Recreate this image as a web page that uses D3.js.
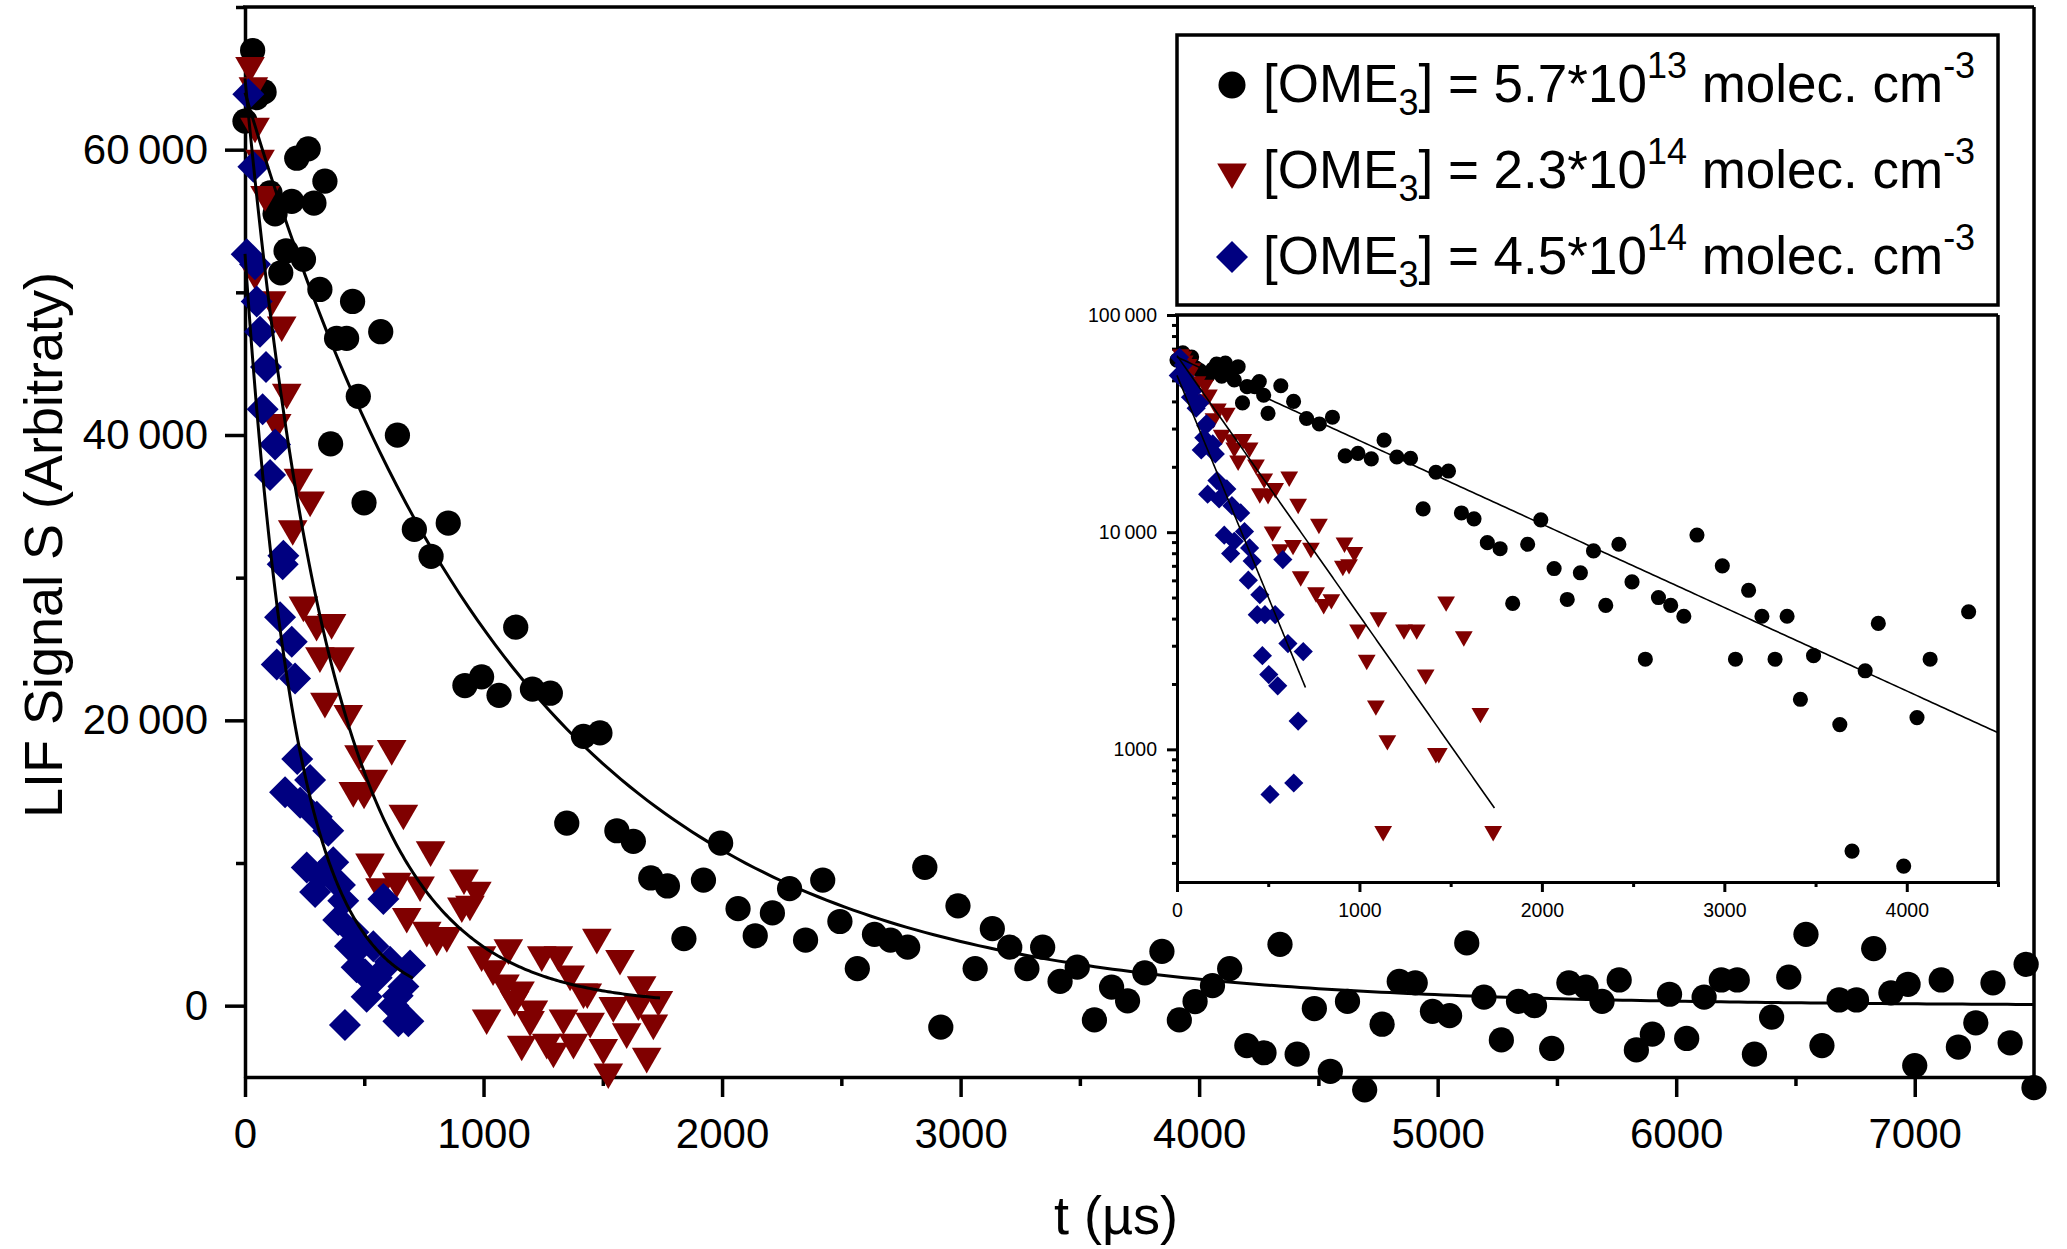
<!DOCTYPE html>
<html>
<head>
<meta charset="utf-8">
<script src="https://cdn.jsdelivr.net/npm/d3@7"></script>
<style>
  body { margin: 0; background: #fff; }
  text { font-family: "Liberation Sans", Arial, sans-serif; fill: #000; }
</style>
</head>
<body>
<div id="chart"></div>
<script>
// time (µs) and LIF signal
var blackT = [0,32,49,80,105,126,150,172,196,217,245,265,289,314,335,359,384,426,451,475,499,569,639,710,780,852,922,992,1065,1135,1205,1280,1349,1419,1488,1559,1628,1701,1771,1840,1922,1994,2067,2139,2211,2283,2350,2422,2494,2567,2639,2706,2778,2850,2917,2989,3061,3133,3206,3278,3344,3417,3489,3561,3633,3700,3772,3844,3917,3983,4056,4128,4200,4272,4339,4411,4483,4550,4622,4694,4767,4839,4906,4978,5050,5122,5194,5267,5339,5406,5478,5550,5622,5689,5761,5833,5900,5972,6044,6117,6189,6256,6328,6400,6472,6544,6611,6683,6756,6828,6900,6972,7000,7111,7183,7256,7328,7400,7467,7500];
var blackS = [62000,66950,63650,64050,56970,55500,51370,52900,56380,59400,52320,60060,56260,50200,57790,39380,46770,46770,49360,42710,35250,47240,39990,33380,31500,33830,22440,23050,21750,26530,22190,21900,12800,18880,19120,12260,11520,8950,8390,4700,8800,11400,6800,4900,6500,8200,4600,8800,5900,2600,5000,4600,4100,9700,-1500,7000,2600,5400,4100,2600,4100,1700,2700,-1000,1300,340,2300,3800,-1000,290,1400,2600,-2800,-3300,4300,-3400,-200,-4600,300,-5900,-1300,1700,1600,-400,-700,4400,600,-2400,300,0,-3000,1600,1300,300,1800,-3100,-2000,800,-2300,600,1800,1800,-3400,-800,2000,5000,-2800,400,400,4000,900,1500,-4200,1800,-2900,-1200,1600,-2600,2900,-5750];

var redT = [21,35,42,63,84,42,112,154,133,175,224,273,200,245,300,363,314,398,335,433,478,615,538,454,499,664,524,778,566,636,734,678,762,804,846,918,972,909,943,992,1104,1040,1090,1153,1130,1244,1314,1363,1209,1013,1160,1195,1265,1293,1335,1377,1419,1435,1447,1475,1502,1523,1544,1572,1600,1649,1663,1712,1684,1733];
var redS = [65890,64480,61640,59400,56850,51370,49480,47710,40870,42990,37040,35440,33430,28080,26730,26850,24520,24520,21330,20480,17660,18020,15940,15080,14960,13490,10060,10920,8340,8720,8460,6250,5280,4660,4910,8950,8090,6990,7110,3560,4050,2580,1590,1100,420,3560,3560,2210,-245,-860,-2700,-980,-2570,-3190,-860,-2570,960,960,-1100,4790,-2940,-4650,0,3310,-1840,130,1470,-1220,-3550,420];

var blueT = [14,35,7,42,49,63,88,74,126,105,161,158,147,196,133,210,219,273,168,231,301,349,259,370,294,398,314,412,580,391,454,482,440,538,468,503,692,552,608,510,664,622,640,419,643,685];
var blueS = [63890,58810,52670,51960,49360,47240,44770,41810,39330,37200,31540,30940,27220,25500,23910,22930,17290,15810,14960,14220,13240,12260,9690,10060,7970,8460,9080,7360,7480,6010,5150,4170,4170,4170,2700,2210,2820,1960,3070,620,1350,0,700,-1350,-1100,-1100];

// single exponential fits S = A*exp(-k t), drawn up to tEnd
var fitA = [64000, 65000, 52700];
var fitK = [0.000885, 0.002757, 0.0047];
var fitEnd = [7500, 1740, 704];

var seriesColor = ["#000000", "#800000", "#000080"];
var legendConc = ["5.7*10", "2.3*10", "4.5*10"];
var legendExp = ["13", "14", "14"];

var xTicks = [0,1000,2000,3000,4000,5000,6000,7000];
var xMinor = [500,1500,2500,3500,4500,5500,6500,7500];
var yTicks = [0,20000,40000,60000];
var yMinor = [10000,30000,50000,70000];
var insetXTicks = [0,1000,2000,3000,4000];
var insetXMinor = [500,1500,2500,3500,4500];
var insetYTicks = [1000,10000,100000];

var width = 2067, height = 1249;

var svg = d3.select("#chart").append("svg")
  .attr("width", width)
  .attr("height", height);

var x = d3.scaleLinear().domain([0, 7500]).range([245, 2034]);
var y = d3.scaleLinear().domain([-5000, 70000]).range([1077, 7]);

var fmt = function(d) {
  // thin space as thousands separator above 9999, like the original
  return d >= 10000 ? d3.format(",")(d).replace(/,/g, "\u2009") : String(d);
};

function zip(ts, ss) {
  return ts.map(function(t, i) { return {t: t, s: ss[i]}; });
}
var series = [zip(blackT, blackS), zip(redT, redS), zip(blueT, blueS)];

function symbolPath(i, scale) {
  if (i == 0) return d3.symbol().type(d3.symbolCircle).size(500 * scale)();
  if (i == 1) return d3.symbol().type(d3.symbolTriangle).size(380 * scale)();
  return d3.symbol().type(d3.symbolSquare).size(512 * scale)();
}
function symbolRot(i) { return i == 1 ? " rotate(180)" : (i == 2 ? " rotate(45)" : ""); }

function fitPoints(i, tMax) {
  var end = Math.min(fitEnd[i], tMax);
  return d3.range(0, end, end / 200).concat([end]).map(function(t) {
    return {t: t, s: fitA[i] * Math.exp(-fitK[i] * t)};
  });
}

// ---------- main axes ----------
function styleAxis(g, w) {
  g.selectAll("path.domain").attr("stroke-width", w);
  g.selectAll("line").attr("stroke-width", w);
}

var gx = svg.append("g").attr("transform", "translate(0,1077)")
  .call(d3.axisBottom(x).tickValues(xTicks).tickSize(20).tickSizeOuter(0).tickPadding(21).tickFormat(fmt));
gx.selectAll("text").attr("font-size", 42).attr("font-family", null);
styleAxis(gx, 3.5);
var gxm = svg.append("g").attr("transform", "translate(0,1077)")
  .call(d3.axisBottom(x).tickValues(xMinor).tickSize(9).tickSizeOuter(0).tickFormat(""));
gxm.select("path.domain").remove();
styleAxis(gxm, 3.5);

var gy = svg.append("g").attr("transform", "translate(245,0)")
  .call(d3.axisLeft(y).tickValues(yTicks).tickSize(20).tickSizeOuter(0).tickPadding(17).tickFormat(fmt));
gy.selectAll("text").attr("font-size", 42).attr("font-family", null);
styleAxis(gy, 3.5);
var gym = svg.append("g").attr("transform", "translate(245,0)")
  .call(d3.axisLeft(y).tickValues(yMinor).tickSize(9).tickSizeOuter(0).tickFormat(""));
gym.select("path.domain").remove();
styleAxis(gym, 3.5);

// top and right frame
svg.append("line").attr("x1", 243).attr("x2", 2034).attr("y1", 7).attr("y2", 7)
  .attr("stroke", "#000").attr("stroke-width", 3.5);
svg.append("line").attr("x1", 2034).attr("x2", 2034).attr("y1", 7).attr("y2", 1078)
  .attr("stroke", "#000").attr("stroke-width", 3.5);

svg.append("text").attr("x", 1116).attr("y", 1234).attr("text-anchor", "middle")
  .attr("font-size", 54).text("t (µs)");
svg.append("text").attr("transform", "translate(62,545) rotate(-90)").attr("text-anchor", "middle")
  .attr("font-size", 54).text("LIF Signal S (Arbitraty)");

// ---------- main markers ----------
series.forEach(function(data, i) {
  svg.append("g").selectAll("path")
    .data(data)
    .enter().append("path")
      .attr("d", symbolPath(i, 1))
      .attr("fill", seriesColor[i])
      .attr("transform", function(d) { return "translate(" + x(d.t) + "," + y(d.s) + ")" + symbolRot(i); });
});

var line = d3.line().x(function(d) { return x(d.t); }).y(function(d) { return y(d.s); });
series.forEach(function(data, i) {
  svg.append("path").datum(fitPoints(i, 7500))
    .attr("d", line).attr("fill", "none").attr("stroke", "#000").attr("stroke-width", 3);
});

// ---------- inset (log scale) ----------
var xi = d3.scaleLinear().domain([0, 4500]).range([1177, 1998]);
var yi = d3.scaleLog().domain([245, 100000]).range([882, 315]);

svg.append("rect").attr("x", 1177).attr("y", 315).attr("width", 821).attr("height", 567).attr("fill", "#fff");

var insetMinorY = [];
[100, 1000, 10000].forEach(function(dec) {
  for (var m = 2; m <= 9; m++) if (m * dec >= 245) insetMinorY.push(m * dec);
});

var ix = svg.append("g").attr("transform", "translate(0,882)")
  .call(d3.axisBottom(xi).tickValues(insetXTicks).tickSize(10).tickSizeOuter(0).tickPadding(11).tickFormat(fmt));
ix.selectAll("text").attr("font-size", 19.5).attr("font-family", null);
styleAxis(ix, 3);
var ixm = svg.append("g").attr("transform", "translate(0,882)")
  .call(d3.axisBottom(xi).tickValues(insetXMinor).tickSize(5).tickSizeOuter(0).tickFormat(""));
ixm.select("path.domain").remove();
styleAxis(ixm, 3);

var iy = svg.append("g").attr("transform", "translate(1177,0)")
  .call(d3.axisLeft(yi).tickValues(insetYTicks).tickSize(10).tickSizeOuter(0).tickPadding(10).tickFormat(fmt));
iy.selectAll("text").attr("font-size", 19.5).attr("font-family", null);
styleAxis(iy, 3);
var iym = svg.append("g").attr("transform", "translate(1177,0)")
  .call(d3.axisLeft(yi).tickValues(insetMinorY).tickSize(5).tickSizeOuter(0).tickFormat(""));
iym.select("path.domain").remove();
styleAxis(iym, 3);

svg.append("line").attr("x1", 1175).attr("x2", 1998).attr("y1", 315).attr("y2", 315)
  .attr("stroke", "#000").attr("stroke-width", 3.5);
svg.append("line").attr("x1", 1998).attr("x2", 1998).attr("y1", 315).attr("y2", 883)
  .attr("stroke", "#000").attr("stroke-width", 3.5);

series.forEach(function(data, i) {
  svg.append("g").selectAll("path")
    .data(data.filter(function(d) { return d.s >= 260 && d.t <= 4500; }))
    .enter().append("path")
      .attr("d", symbolPath(i, 0.36))
      .attr("fill", seriesColor[i])
      .attr("transform", function(d) { return "translate(" + xi(d.t) + "," + yi(d.s) + ")" + symbolRot(i); });
});

var lineI = d3.line().x(function(d) { return xi(d.t); }).y(function(d) { return yi(d.s); });
series.forEach(function(data, i) {
  svg.append("path").datum(fitPoints(i, 4500))
    .attr("d", lineI).attr("fill", "none").attr("stroke", "#000").attr("stroke-width", 1.6);
});

// ---------- legend ----------
var legend = svg.append("g");
legend.append("rect").attr("x", 1177).attr("y", 35).attr("width", 821).attr("height", 270)
  .attr("fill", "#fff").attr("stroke", "#000").attr("stroke-width", 3.5);

var rowSym = [85, 172, 257];
var rowBase = [102, 188, 274];
legendConc.forEach(function(c, i) {
  legend.append("path")
    .attr("d", symbolPath(i, i == 0 ? 1.15 : 1))
    .attr("fill", seriesColor[i])
    .attr("transform", "translate(1232," + rowSym[i] + ")" + symbolRot(i));
  var t = legend.append("text").attr("x", 1263).attr("y", rowBase[i]).attr("font-size", 53);
  t.append("tspan").text("[OME");
  t.append("tspan").attr("font-size", 36).attr("dy", 13).text("3");
  t.append("tspan").attr("dy", -13).text("] = " + c);
  t.append("tspan").attr("font-size", 36).attr("dy", -24).text(legendExp[i]);
  t.append("tspan").attr("dy", 24).text(" molec. cm");
  t.append("tspan").attr("font-size", 36).attr("dy", -24).text("-3");
});
</script>
</body>
</html>
